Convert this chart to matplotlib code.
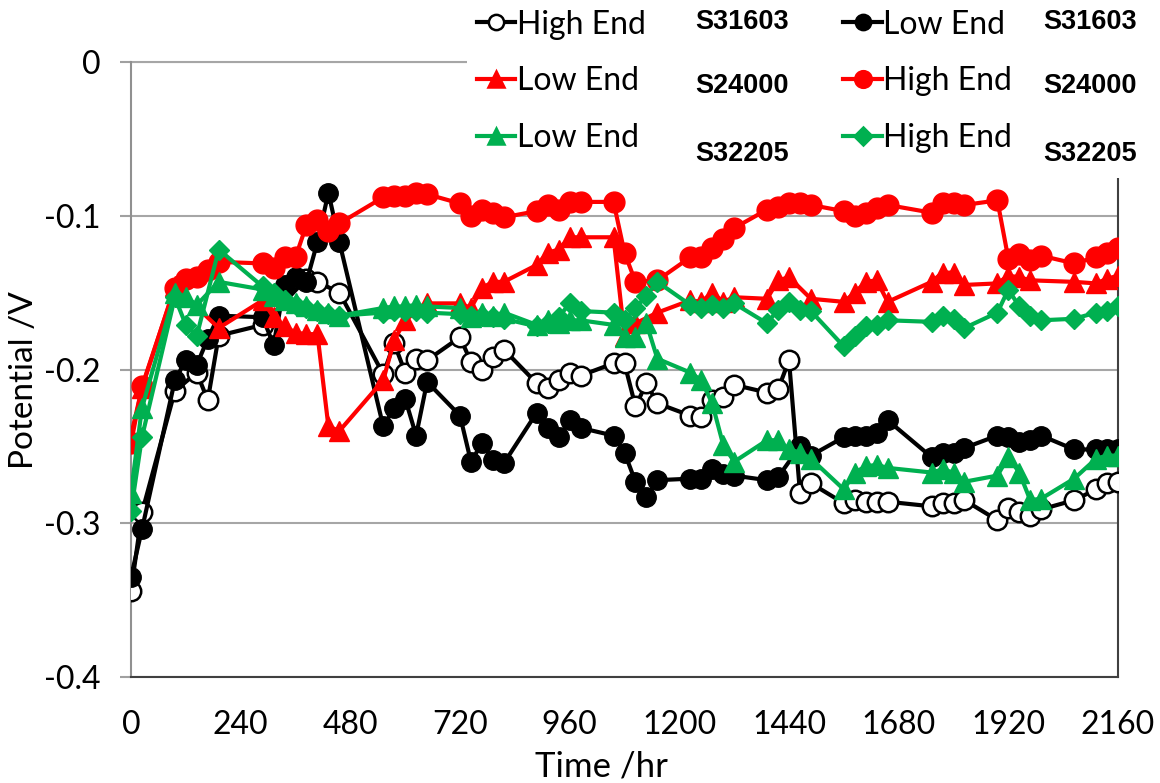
import matplotlib
matplotlib.use("Agg")
import matplotlib.pyplot as plt
from matplotlib.lines import Line2D
from matplotlib.patches import Rectangle

plt.rcParams['font.family'] = ['Lato', 'DejaVu Sans']

# ---- data (time in hr, potential in V) ----
t_hi_31603 = [0, 24, 96, 144, 168, 192, 288, 384, 408, 456, 552, 576, 600, 624, 648,
              720, 744, 768, 792, 816, 888, 912, 936, 960, 984, 1056, 1080, 1104, 1128, 1152,
              1224, 1248, 1272, 1296, 1320, 1392, 1416, 1440, 1464, 1488, 1560, 1584, 1608, 1632, 1656,
              1752, 1776, 1800, 1824, 1896, 1920, 1944, 1968, 1992, 2064, 2112, 2136, 2160]
v_hi_31603 = [-0.344, -0.293, -0.214, -0.202, -0.220, -0.178, -0.171, -0.141, -0.143, -0.150,
              -0.203, -0.183, -0.202, -0.193, -0.194, -0.179, -0.195, -0.200, -0.192, -0.187,
              -0.209, -0.212, -0.207, -0.202, -0.204, -0.196, -0.196, -0.224, -0.209, -0.222,
              -0.230, -0.231, -0.220, -0.218, -0.210, -0.215, -0.213, -0.194, -0.280, -0.274,
              -0.287, -0.285, -0.286, -0.286, -0.286, -0.289, -0.287, -0.287, -0.285,
              -0.298, -0.290, -0.293, -0.295, -0.291, -0.285, -0.278, -0.274, -0.273]

t_lo_31603 = [0, 24, 96, 120, 144, 168, 192, 288, 312, 336, 360, 384, 408, 432, 456,
              552, 576, 600, 624, 648, 720, 744, 768, 792, 816, 888, 912, 936, 960, 984,
              1056, 1080, 1104, 1128, 1152, 1224, 1248, 1272, 1296, 1320, 1392, 1416, 1464, 1488,
              1560, 1584, 1608, 1632, 1656, 1752, 1776, 1800, 1824, 1896, 1920, 1944, 1968, 1992,
              2064, 2112, 2136, 2160]
v_lo_31603 = [-0.335, -0.304, -0.207, -0.194, -0.197, -0.180, -0.165, -0.166, -0.184, -0.145,
              -0.140, -0.143, -0.117, -0.085, -0.117, -0.237, -0.225, -0.219, -0.243, -0.208,
              -0.230, -0.260, -0.248, -0.259, -0.261, -0.228, -0.238, -0.244, -0.233, -0.238,
              -0.243, -0.254, -0.273, -0.283, -0.272, -0.271, -0.271, -0.265, -0.268, -0.269,
              -0.272, -0.270, -0.250, -0.256, -0.244, -0.243, -0.243, -0.241, -0.233,
              -0.257, -0.254, -0.254, -0.251, -0.243, -0.244, -0.247, -0.246, -0.243,
              -0.252, -0.252, -0.252, -0.252]

t_lo_24000 = [0, 24, 96, 192, 288, 312, 336, 360, 384, 408, 432, 456, 552, 576, 600, 648,
              720, 744, 768, 792, 816, 888, 912, 936, 960, 984, 1056, 1080, 1104, 1152,
              1224, 1248, 1272, 1296, 1320, 1392, 1416, 1440, 1488, 1560, 1584, 1608, 1632, 1656,
              1752, 1776, 1800, 1824, 1896, 1920, 1944, 1968, 2064, 2112, 2136, 2160]
v_lo_24000 = [-0.243, -0.212, -0.146, -0.173, -0.155, -0.166, -0.172, -0.176, -0.177, -0.177,
              -0.237, -0.240, -0.207, -0.181, -0.168, -0.157, -0.157, -0.160, -0.147, -0.143,
              -0.143, -0.132, -0.124, -0.122, -0.114, -0.114, -0.114, -0.178, -0.170, -0.163,
              -0.155, -0.156, -0.150, -0.156, -0.153, -0.154, -0.142, -0.140, -0.154,
              -0.156, -0.150, -0.143, -0.142, -0.156, -0.143, -0.137, -0.137, -0.145,
              -0.144, -0.139, -0.140, -0.142, -0.143, -0.144, -0.141, -0.139]

t_hi_24000 = [0, 24, 96, 120, 144, 168, 192, 288, 312, 336, 360, 384, 408, 432, 456,
              552, 576, 600, 624, 648, 720, 744, 768, 792, 816, 888, 912, 936, 960, 984,
              1056, 1080, 1104, 1152, 1224, 1248, 1272, 1296, 1320, 1392, 1416, 1440, 1464, 1488,
              1560, 1584, 1608, 1632, 1656, 1752, 1776, 1800, 1824, 1896, 1920, 1944, 1968, 1992,
              2064, 2112, 2136, 2160]
v_hi_24000 = [-0.248, -0.211, -0.147, -0.141, -0.140, -0.135, -0.130, -0.131, -0.134, -0.127,
              -0.127, -0.106, -0.103, -0.110, -0.105, -0.088, -0.087, -0.087, -0.085, -0.086,
              -0.092, -0.100, -0.096, -0.098, -0.101, -0.097, -0.093, -0.096, -0.091, -0.091,
              -0.091, -0.124, -0.143, -0.142, -0.127, -0.127, -0.121, -0.115, -0.108,
              -0.096, -0.094, -0.092, -0.092, -0.093, -0.097, -0.100, -0.098, -0.095, -0.093,
              -0.098, -0.092, -0.092, -0.093, -0.090, -0.128, -0.125, -0.129, -0.126,
              -0.131, -0.127, -0.124, -0.121]

t_lo_32205 = [0, 24, 96, 120, 144, 192, 288, 312, 336, 360, 384, 408, 432, 456,
              552, 576, 600, 624, 648, 720, 744, 768, 792, 816, 888, 912, 936, 960, 984,
              1056, 1080, 1104, 1128, 1152, 1224, 1248, 1272, 1296, 1320, 1392, 1416, 1440, 1464, 1488,
              1560, 1584, 1608, 1632, 1656, 1752, 1776, 1800, 1824, 1896, 1920, 1944, 1968, 1992,
              2064, 2112, 2136, 2160]
v_lo_32205 = [-0.280, -0.225, -0.150, -0.153, -0.158, -0.143, -0.148, -0.152, -0.155, -0.157,
              -0.159, -0.161, -0.163, -0.165, -0.160, -0.159, -0.159, -0.158, -0.159,
              -0.160, -0.166, -0.163, -0.165, -0.163, -0.171, -0.168, -0.170, -0.168, -0.168,
              -0.171, -0.179, -0.179, -0.170, -0.193, -0.202, -0.207, -0.222, -0.249, -0.260,
              -0.246, -0.246, -0.252, -0.254, -0.258, -0.278, -0.267, -0.263, -0.262, -0.264,
              -0.267, -0.265, -0.267, -0.273, -0.269, -0.257, -0.267, -0.285, -0.284,
              -0.271, -0.258, -0.256, -0.256]

t_hi_32205 = [0, 24, 96, 120, 144, 192, 288, 312, 336, 360, 384, 408, 432, 456,
              552, 576, 600, 624, 648, 720, 744, 768, 792, 816, 888, 912, 936, 960, 984,
              1056, 1080, 1104, 1128, 1152, 1224, 1248, 1272, 1296, 1320, 1392, 1416, 1440, 1464, 1488,
              1560, 1584, 1608, 1632, 1656, 1752, 1776, 1800, 1824, 1896, 1920, 1944, 1968, 1992,
              2064, 2112, 2136, 2160]
v_hi_32205 = [-0.292, -0.244, -0.153, -0.171, -0.178, -0.122, -0.146, -0.150, -0.155, -0.158,
              -0.160, -0.162, -0.164, -0.165, -0.163, -0.162, -0.162, -0.162, -0.163,
              -0.164, -0.165, -0.165, -0.166, -0.167, -0.172, -0.170, -0.166, -0.157, -0.162,
              -0.163, -0.168, -0.160, -0.152, -0.143, -0.158, -0.160, -0.158, -0.160, -0.157,
              -0.170, -0.161, -0.156, -0.161, -0.162, -0.185, -0.178, -0.172, -0.171, -0.168,
              -0.169, -0.165, -0.167, -0.173, -0.163, -0.148, -0.159, -0.165, -0.168,
              -0.167, -0.163, -0.162, -0.159]

x_ticks = [0, 240, 480, 720, 960, 1200, 1440, 1680, 1920, 2160]
y_ticks = [0, -0.1, -0.2, -0.3, -0.4]
y_tick_labels = ['0', '-0.1', '-0.2', '-0.3', '-0.4']

RED = '#FF0000'
GREEN = '#00B050'
W, H = 1160, 783

fig = plt.figure(figsize=(W / 100, H / 100), dpi=100)
ax = fig.add_axes([131 / W, 1 - 677 / H, (1118 - 131) / W, (677 - 62) / H])

lw = 3.0
ax.plot(t_hi_31603, v_hi_31603, color='black', lw=lw, marker='o', ms=14,
        mfc='white', mec='black', mew=1.8, zorder=3)
ax.plot(t_lo_31603, v_lo_31603, color='black', lw=lw, marker='o', ms=14,
        mfc='black', mec='black', zorder=4)
ax.plot(t_lo_24000, v_lo_24000, color=RED, lw=lw, marker='^', ms=14,
        mfc=RED, mec=RED, zorder=5)
ax.plot(t_hi_24000, v_hi_24000, color=RED, lw=lw, marker='o', ms=15,
        mfc=RED, mec=RED, zorder=6)
ax.plot(t_hi_32205, v_hi_32205, color=GREEN, lw=lw, marker='D', ms=10.5,
        mfc=GREEN, mec=GREEN, zorder=7)
ax.plot(t_lo_32205, v_lo_32205, color=GREEN, lw=lw, marker='^', ms=14,
        mfc=GREEN, mec=GREEN, zorder=8)

ax.set_xlim(0, 2160)
ax.set_ylim(-0.4, 0)
ax.set_xticks(x_ticks)
ax.set_xticklabels([str(v) for v in x_ticks])
ax.set_yticks(y_ticks)
ax.set_yticklabels(y_tick_labels)
ax.tick_params(axis='x', length=0, pad=24, labelsize=23)
ax.tick_params(axis='y', length=8, width=1.5, color='#A0A0A0', pad=14, labelsize=23)
ax.yaxis.grid(True, color='#A6A6A6', lw=1.5, zorder=0)
ax.set_axisbelow(True)
ax.spines['top'].set_visible(False)
ax.spines['left'].set_color('#909090')
ax.spines['left'].set_linewidth(1.5)
ax.spines['bottom'].set_color('#404040')
ax.spines['bottom'].set_linewidth(1.5)
ax.spines['right'].set_color('#404040')
ax.spines['right'].set_linewidth(1.5)
ax.axhline(0, color='#A6A6A6', lw=1.5, zorder=0, clip_on=False)

fig.text(24 / W, 1 - 380 / H, 'Potential /V', rotation=90, ha='center', va='center', fontsize=24)
fig.text(601 / W, 1 - 766 / H, 'Time /hr', ha='center', va='center', fontsize=25)

# legend
def lh(color, marker, ms, mfc):
    return Line2D([], [], color=color, lw=3, marker=marker, ms=ms, mfc=mfc, mec=color, mew=1.8)

handles = [lh('black', 'o', 11, 'white'), lh(RED, '^', 12, RED), lh(GREEN, '^', 12, GREEN),
           lh('black', 'o', 11, 'black'), lh(RED, 'o', 12, RED), lh(GREEN, 'D', 9, GREEN)]
labels = ['High End', 'Low End', 'Low End', 'Low End', 'High End', 'High End']
leg = fig.legend(handles, labels, loc='upper left', bbox_to_anchor=(467 / W, 1.0),
                 ncol=2, fontsize=23, frameon=True, facecolor='white', edgecolor='none',
                 framealpha=1.0, handlelength=1.2, handletextpad=0.05, columnspacing=6.2,
                 labelspacing=0.84, borderpad=0.3, borderaxespad=0.0, fancybox=False)
leg.set_zorder(20)
fig.patches.append(Rectangle((467 / W, 1 - 178 / H), 1 - 467 / W, 178 / H, transform=fig.transFigure,
                             facecolor='white', edgecolor='none', zorder=15))

s_labels = [('S31603', 695, 22), ('S31603', 1043, 22), ('S24000', 695, 86), ('S24000', 1043, 86),
            ('S32205', 695, 154), ('S32205', 1043, 154)]
for txt, px, py in s_labels:
    fig.text(px / W, 1 - py / H, txt, ha='left', va='center', fontsize=19.5, fontweight='bold',
             family='Liberation Sans', zorder=30)

fig.savefig('out.png', dpi=100)
